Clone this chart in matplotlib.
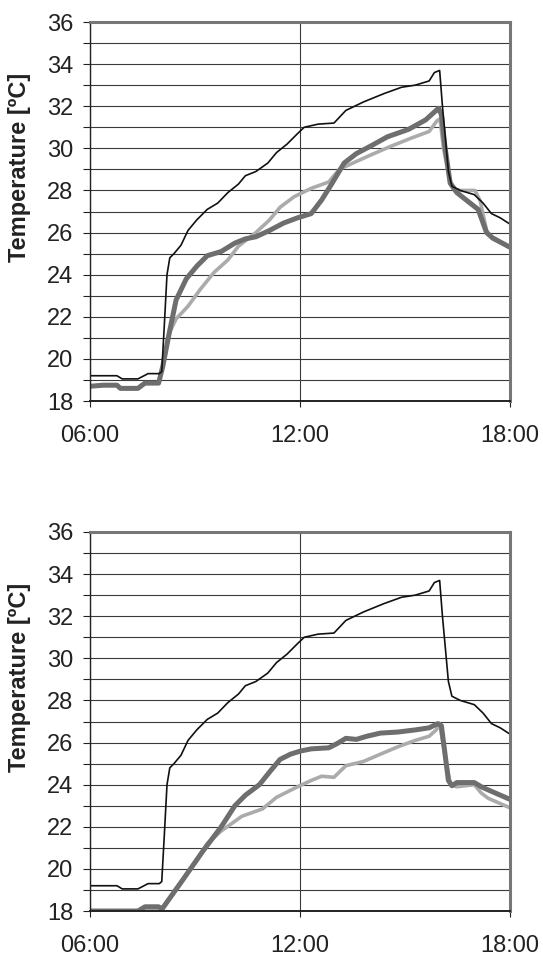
import matplotlib
matplotlib.use("Agg")
import matplotlib.pyplot as plt
from matplotlib.ticker import MultipleLocator, FixedLocator
import numpy as np

plt.rcParams['font.family'] = ['Liberation Sans', 'DejaVu Sans']

# ---- data (hours of day, temperature in degC) ----
ambient_t = [6.0, 6.77, 6.92, 7.37, 7.66, 7.98, 8.05, 8.12, 8.2, 8.28, 8.4, 8.6, 8.8, 9.05,
             9.35, 9.65, 9.94, 10.24, 10.44, 10.74, 11.08, 11.33, 11.63, 11.93, 12.12,
             12.52, 12.97, 13.31, 13.81, 14.40, 14.90, 15.29, 15.69, 15.84, 15.99, 16.07,
             16.24, 16.34, 16.58, 16.98, 17.23, 17.47, 17.72, 18.0]
ambient_T = [19.2, 19.2, 19.05, 19.05, 19.3, 19.3, 19.4, 21.5, 24.0, 24.8, 25.0, 25.4, 26.1, 26.6,
             27.1, 27.4, 27.9, 28.3, 28.7, 28.9, 29.3, 29.8, 30.2, 30.7, 31.0,
             31.15, 31.2, 31.8, 32.2, 32.6, 32.9, 33.0, 33.2, 33.6, 33.7, 32.0,
             28.9, 28.2, 28.0, 27.8, 27.4, 26.9, 26.7, 26.4]

# top panel
top_dark_t = [6.0, 6.38, 6.77, 6.87, 7.37, 7.57, 7.96, 8.08, 8.26, 8.46, 8.75, 9.05, 9.35, 9.75,
              10.14, 10.44, 10.74, 11.13, 11.53, 11.93, 12.32, 12.62, 12.92, 13.26, 13.61,
              14.01, 14.50, 15.10, 15.59, 15.89, 15.96, 16.04, 16.14, 16.29, 16.48, 16.86,
              17.09, 17.33, 17.5, 18.0]
top_dark_T = [18.7, 18.75, 18.75, 18.6, 18.6, 18.85, 18.85, 19.65, 21.2, 22.8, 23.8, 24.4, 24.9, 25.1,
              25.5, 25.7, 25.8, 26.1, 26.45, 26.7, 26.9, 27.55, 28.35, 29.3, 29.75,
              30.1, 30.55, 30.9, 31.35, 31.8, 31.9, 31.6, 30.1, 28.35, 27.9, 27.4,
              27.1, 26.0, 25.75, 25.3]

top_light_t = [6.0, 6.38, 6.77, 6.87, 7.37, 7.57, 7.96, 8.08, 8.26, 8.46, 8.8, 9.15, 9.54,
               9.94, 10.24, 10.74, 11.13, 11.43, 11.83, 12.32, 12.82, 13.12, 13.51, 14.11,
               14.60, 15.20, 15.69, 15.91, 16.0, 16.1, 16.29, 16.45, 16.57, 17.0, 17.15,
               17.33, 17.5, 18.0]
top_light_T = [18.7, 18.75, 18.75, 18.6, 18.6, 18.85, 18.85, 19.65, 21.2, 21.9, 22.5, 23.3, 24.1,
               24.7, 25.35, 26.0, 26.6, 27.2, 27.7, 28.1, 28.4, 29.0, 29.3, 29.75,
               30.1, 30.5, 30.8, 31.3, 31.4, 30.0, 28.4, 28.05, 28.0, 28.0, 27.5,
               26.1, 25.7, 25.3]

# bottom panel
bot_dark_t = [6.0, 7.37, 7.57, 7.96, 8.06, 8.66, 9.25, 9.75, 10.14, 10.44, 10.84, 11.13, 11.43,
              11.73, 12.02, 12.32, 12.82, 13.06, 13.31, 13.61, 13.91, 14.3, 14.8, 15.29,
              15.69, 15.94, 16.04, 16.14, 16.24, 16.34, 16.48, 16.98, 17.18, 17.38, 18.0]
bot_dark_T = [18.0, 18.0, 18.2, 18.2, 18.1, 19.5, 20.9, 22.0, 23.0, 23.5, 24.0, 24.6, 25.2,
              25.45, 25.6, 25.7, 25.75, 25.95, 26.2, 26.15, 26.3, 26.45, 26.5, 26.6,
              26.7, 26.9, 26.8, 25.5, 24.2, 23.95, 24.1, 24.1, 23.9, 23.75, 23.3]

bot_light_t = [6.0, 7.37, 7.96, 8.06, 8.66, 9.35, 9.75, 10.34, 10.93, 11.33, 11.93, 12.32,
               12.62, 12.97, 13.31, 13.81, 14.3, 14.8, 15.29, 15.69, 15.89, 15.99, 16.14,
               16.3, 16.48, 16.98, 17.18, 17.38, 18.0]
bot_light_T = [18.0, 18.0, 18.0, 18.05, 19.5, 21.2, 21.8, 22.5, 22.85, 23.4, 23.9, 24.2,
               24.4, 24.35, 24.9, 25.1, 25.45, 25.8, 26.1, 26.3, 26.6, 26.9, 25.4,
               24.0, 23.9, 24.0, 23.6, 23.35, 22.9]

x_ticks = [6, 12, 18]
x_labels = ["06:00", "12:00", "18:00"]
y_label = "Temperature [ºC]"

W, H = 543, 959
fig = plt.figure(figsize=(W / 100, H / 100), dpi=100)

def make_axes(top_px, bottom_px):
    ax = fig.add_axes([90 / W, 1 - bottom_px / H, 420 / W, (bottom_px - top_px) / H])
    return ax

def style(ax, series):
    for (t, T, color, lw) in series:
        ax.plot(t, T, color=color, lw=lw, solid_capstyle='butt', solid_joinstyle='round')
    ax.set_xlim(6, 18)
    ax.set_ylim(18, 36)
    ax.xaxis.set_major_locator(FixedLocator(x_ticks))
    ax.set_xticklabels(x_labels)
    ax.yaxis.set_major_locator(MultipleLocator(2))
    ax.yaxis.set_minor_locator(MultipleLocator(1))
    ax.grid(axis='y', which='both', color='#3a3a3a', lw=0.8)
    ax.grid(axis='x', which='major', color='#3a3a3a', lw=0.8)
    ax.set_axisbelow(True)
    ax.tick_params(axis='y', which='both', direction='out', length=5, width=0.8,
                   pad=7, labelsize=17, color='#222222', labelcolor='#222222')
    ax.tick_params(axis='x', which='major', direction='out', length=4.5, width=0.8,
                   pad=12.5, labelsize=17, color='#222222', labelcolor='#222222')
    ax.spines['left'].set_color('#222222')
    ax.spines['left'].set_linewidth(1.0)
    ax.spines['bottom'].set_color('#222222')
    ax.spines['bottom'].set_linewidth(1.4)
    ax.spines['top'].set_color('#777777')
    ax.spines['top'].set_linewidth(2.2)
    ax.spines['right'].set_color('#777777')
    ax.spines['right'].set_linewidth(2.2)
    ax.set_ylabel(y_label, fontsize=17, fontweight='bold', color='#222222')
    ax.yaxis.label.set_va('center')
    ax.yaxis.set_label_coords(-0.169, 0.616)

ax1 = make_axes(22, 401)
style(ax1, [
    (top_light_t, top_light_T, '#ababab', 2.6),
    (top_dark_t, top_dark_T, '#6e6e6e', 3.6),
    (ambient_t, ambient_T, '#111111', 1.2),
])

ax2 = make_axes(532, 911)
style(ax2, [
    (bot_light_t, bot_light_T, '#ababab', 2.6),
    (bot_dark_t, bot_dark_T, '#6e6e6e', 3.6),
    (ambient_t, ambient_T, '#111111', 1.2),
])

fig.savefig("out.png", dpi=100, facecolor='white')
